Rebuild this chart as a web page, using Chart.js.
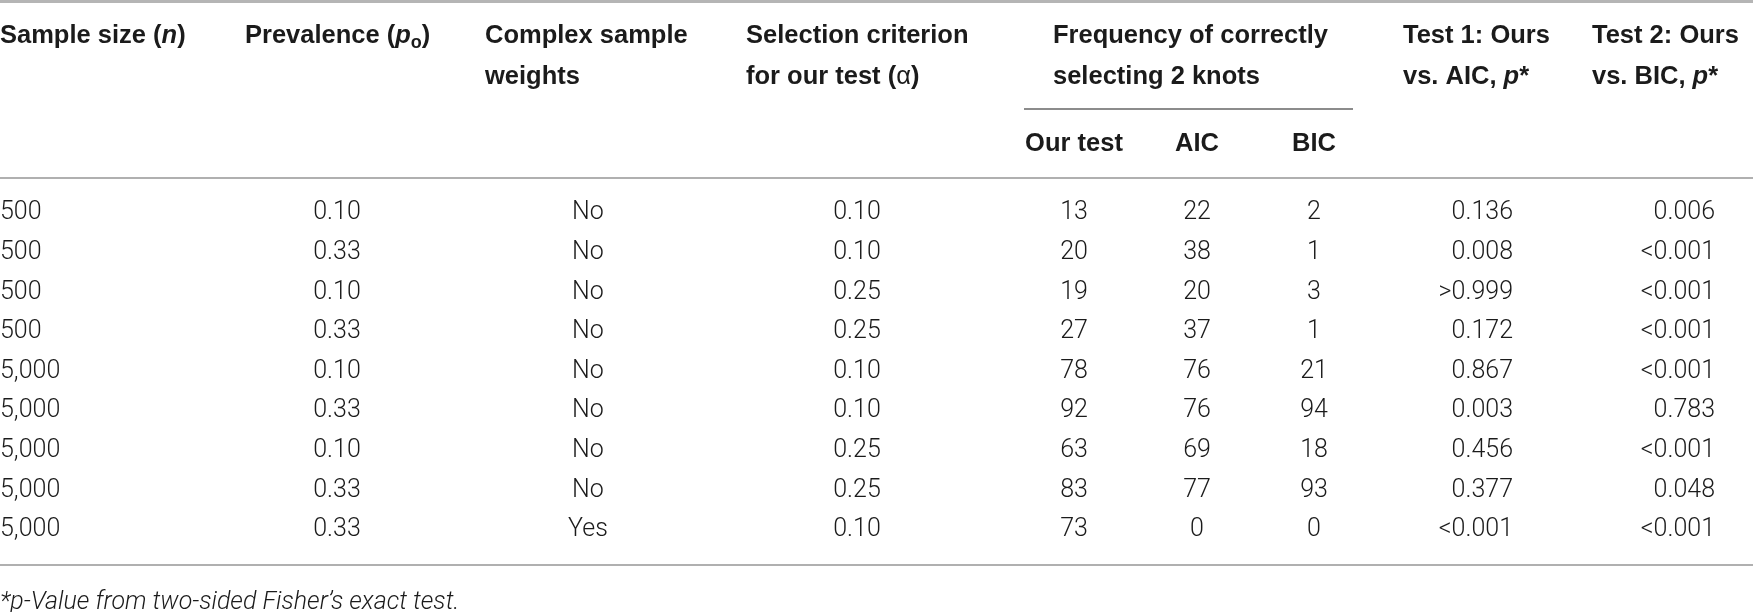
<!DOCTYPE html>
<html><head><meta charset="utf-8">
<script src="https://cdn.jsdelivr.net/npm/chart.js@4"></script>
<style>html,body{margin:0;padding:0;background:#fff;}canvas{display:block;}</style>
</head><body>
<canvas id="c" width="1753" height="612"></canvas>
<script>
// ---------- DATA ----------
const sampleSize     = ['500','500','500','500','5,000','5,000','5,000','5,000','5,000'];
const prevalence     = ['0.10','0.33','0.10','0.33','0.10','0.33','0.10','0.33','0.33'];
const complexWeights = ['No','No','No','No','No','No','No','No','Yes'];
const alphaCriterion = ['0.10','0.10','0.25','0.25','0.10','0.10','0.25','0.25','0.10'];
const freqOurTest    = [13,20,19,27,78,92,63,83,73];
const freqAIC        = [22,38,20,37,76,76,69,77,0];
const freqBIC        = [2,1,3,1,21,94,18,93,0];
const pTest1         = ['0.136','0.008','>0.999','0.172','0.867','0.003','0.456','0.377','<0.001'];
const pTest2         = ['0.006','<0.001','<0.001','<0.001','<0.001','0.783','<0.001','0.048','<0.001'];
const subHeaders     = ['Our test','AIC','BIC'];
const footnote       = '*p-Value from two-sided Fisher\u2019s exact test.';
// header labels as [text, style] segments, one array per line
const headerLabels = [
  [[['Sample size (','b'],['n','bi'],[')','b']]],
  [[['Prevalence (','b'],['p','bi'],['o','sub'],[')','b']]],
  [[['Complex sample','b']],[['weights','b']]],
  [[['Selection criterion','b']],[['for our test (','b'],['\u03b1','n'],[')','b']]],
  [[['Frequency of correctly','b']],[['selecting 2 knots','b']]],
  [[['Test 1: Ours','b']],[['vs. AIC, ','b'],['p','bi'],['*','b']]],
  [[['Test 2: Ours','b']],[['vs. BIC, ','b'],['p','bi'],['*','b']]]
];

// ---------- LAYOUT (positions / styles only) ----------
const W = 1753, H = 612;
const ROW0 = 210.5, PITCH = 39.6;          // first body row centre, row pitch (px)
const yv = px => (px - ROW0) / PITCH;      // convert layout px to row units on y scale
const colLayout = [
  {x:0,    align:'left'},
  {x:337,  align:'center'},
  {x:588,  align:'center'},
  {x:857,  align:'center'},
  {x:1074, align:'center'},
  {x:1197, align:'center'},
  {x:1314, align:'center'},
  {x:1513, align:'right'},
  {x:1715, align:'right'}
];
const headerX = [0, 245, 485, 746, 1053, 1403, 1592];
const headerLineY = [33.5, 75];
const subHeaderY = 142;
const rules = [
  {y:1.5, x0:0, x1:W, w:3, c:'#b5b5b5'},
  {y:109, x0:1024, x1:1353, w:2, c:'#8c8c8c'},
  {y:178, x0:0, x1:W, w:2, c:'#b0b0b0'},
  {y:565, x0:0, x1:W, w:2, c:'#b0b0b0'}
];
const footY = 601;
const FAM = '"Liberation Sans", Arial, Helvetica, sans-serif';
const DATAFAM = 'Roboto, "Liberation Sans", Arial, sans-serif';
const HFS = 25.5, DFS = 25;
const fonts = {
  b:  `700 ${HFS}px ${FAM}`,
  bi: `italic 700 ${HFS}px ${FAM}`,
  n:  `400 ${HFS}px ${FAM}`,
  sub:`700 ${Math.round(HFS*0.72)}px ${FAM}`
};
const TEXT = '#1b1b1b';

const columns = [sampleSize, prevalence, complexWeights, alphaCriterion,
                 freqOurTest, freqAIC, freqBIC, pTest1, pTest2];

const datasets = columns.map((vals, ci) => ({
  label: 'col' + ci,
  data: vals.map((v, i) => ({x: colLayout[ci].x, y: i, text: String(v)})),
  pointRadius: 0, pointHoverRadius: 0, showLine: false,
  colAlign: colLayout[ci].align
}));

function drawRich(ctx, segs, x, yCenter) {
  const base = yCenter + HFS * 0.36;
  let cx = x;
  segs.forEach(([t, s]) => {
    ctx.font = fonts[s];
    const dy = s === 'sub' ? HFS * 0.22 : 0;
    ctx.fillText(t, cx, base + dy);
    cx += ctx.measureText(t).width;
  });
}

const tablePlugin = {
  id: 'tablePlugin',
  afterDatasetsDraw(chart) {
    const ctx = chart.ctx, xs = chart.scales.x, ys = chart.scales.y;
    ctx.save();
    ctx.fillStyle = TEXT;
    ctx.textAlign = 'left';
    ctx.textBaseline = 'alphabetic';
    // rules
    rules.forEach(r => {
      ctx.beginPath();
      ctx.strokeStyle = r.c; ctx.lineWidth = r.w;
      const py = ys.getPixelForValue(yv(r.y));
      ctx.moveTo(xs.getPixelForValue(r.x0), py);
      ctx.lineTo(xs.getPixelForValue(r.x1), py);
      ctx.stroke();
    });
    // headers
    headerLabels.forEach((lines, hi) => {
      lines.forEach((segs, li) => {
        drawRich(ctx, segs, xs.getPixelForValue(headerX[hi]), ys.getPixelForValue(yv(headerLineY[li])));
      });
    });
    // sub headers
    ctx.font = fonts.b; ctx.textAlign = 'center';
    subHeaders.forEach((t, i) => {
      ctx.fillText(t, xs.getPixelForValue(colLayout[4 + i].x), ys.getPixelForValue(yv(subHeaderY)) + HFS * 0.36);
    });
    // body cells from dataset elements
    ctx.font = `300 ${DFS}px ${DATAFAM}`;
    chart.data.datasets.forEach((ds, di) => {
      const meta = chart.getDatasetMeta(di);
      ctx.textAlign = ds.colAlign;
      meta.data.forEach((el, i) => {
        ctx.fillText(ds.data[i].text, el.x, el.y + DFS * 0.355);
      });
    });
    // footnote
    ctx.textAlign = 'left';
    ctx.font = `italic 300 ${DFS}px ${DATAFAM}`;
    ctx.fillText(footnote, xs.getPixelForValue(0), ys.getPixelForValue(yv(footY)) + DFS * 0.33);
    ctx.restore();
  }
};

new Chart(document.getElementById('c'), {
  type: 'scatter',
  data: { datasets },
  options: {
    responsive: false, maintainAspectRatio: false, animation: false,
    devicePixelRatio: 1,
    events: [],
    layout: { padding: 0, autoPadding: false },
    plugins: { legend: {display:false}, tooltip: {enabled:false} },
    scales: {
      x: { type:'linear', display:false, min:0, max:W },
      y: { type:'linear', display:false, reverse:true, min: yv(0), max: yv(H) }
    }
  },
  plugins: [tablePlugin]
});
</script>
</body></html>
